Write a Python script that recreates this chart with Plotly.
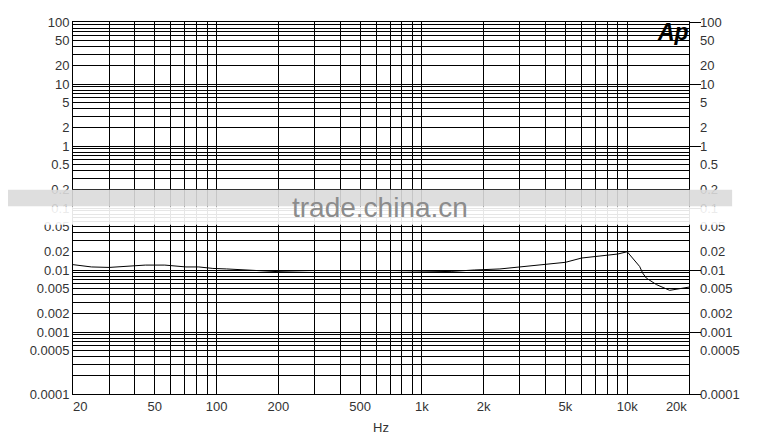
import plotly.graph_objects as go

# ---- data ----
freq_hz = [20, 24.6, 30, 36, 45, 56, 71, 82, 96, 112, 140, 160, 200, 300, 500, 700,
           1000, 1400, 1800, 2400, 3000, 4000, 5000, 6000, 7000, 9000, 10000,
           11500, 11900, 12400, 13900, 16100, 18700, 20000]
thd_pct = [0.0122, 0.0112, 0.0110, 0.0114, 0.0120, 0.0120, 0.0112, 0.0112, 0.0106, 0.0104,
           0.0099, 0.0098, 0.0094, 0.0091, 0.0090, 0.0091,
           0.0093, 0.0095, 0.0100, 0.0104, 0.0112, 0.0125, 0.0133, 0.0156, 0.0166, 0.0181, 0.0197,
           0.0114, 0.0089, 0.0074, 0.0058, 0.0047, 0.0051, 0.0053]

x_tick_vals = [20, 50, 100, 200, 500, 1000, 2000, 5000, 10000, 20000]
x_tick_text = ["\u00a0\u00a0\u00a0\u00a020", "50", "100", "200", "500", "1k", "2k", "5k", "10k",
               "20k\u00a0\u00a0\u00a0\u00a0\u00a0\u00a0\u00a0"]
y_tick_vals = [100, 50, 20, 10, 5, 2, 1, 0.5, 0.2, 0.1, 0.05, 0.02, 0.01, 0.005, 0.002,
               0.001, 0.0005, 0.0001]
y_tick_text = ["100", "50", "20", "10", "5", "2", "1", "0.5", "0.2", "0.1", "0.05", "0.02",
               "0.01", "0.005", "0.002", "0.001", "0.0005", "0.0001"]
y_decades = [100, 10, 1, 0.1, 0.01, 0.001, 0.0001]

# grid positions
x_grid = [m * 10 ** e for e in (1, 2, 3) for m in range(1, 10) if m * 10 ** e >= 20] + [10000]
y_grid = [m * 10.0 ** e for e in range(-4, 2) for m in range(1, 10)] + [100]

FONT = "Liberation Sans, Arial, sans-serif"
TXT = "#333333"

fig = go.Figure()
fig.add_trace(go.Scatter(x=freq_hz, y=thd_pct, mode="lines",
                         line=dict(color="black", width=1), hoverinfo="skip"))
for ya in ("y2", "y3"):
    fig.add_trace(go.Scatter(x=[freq_hz[0]], y=[thd_pct[0]], yaxis=ya, mode="markers",
                             marker=dict(opacity=0), hoverinfo="skip"))

yrange = [-4, 2]
# the page body has an 8px margin, so the figure is sized to fit the 761x435 window
fig.update_layout(
    width=753, height=427,
    margin=dict(l=65, r=72, t=14, b=41, autoexpand=False),
    paper_bgcolor="white", plot_bgcolor="white",
    showlegend=False,
    font=dict(family=FONT, size=13, color=TXT),
    xaxis=dict(type="log", range=[1.30103, 4.30103], tickmode="array",
               tickvals=x_tick_vals, ticktext=x_tick_text, showgrid=False,
               minor=dict(tickmode="array", tickvals=x_grid, showgrid=True,
                          gridcolor="black", gridwidth=1, ticks=""),
               showline=True, linecolor="black", linewidth=1, mirror=True,
               ticks="", zeroline=False, automargin=False,
               title=dict(text="Hz", standoff=14, font=dict(size=13, color=TXT))),
    yaxis=dict(type="log", range=yrange, tickmode="array",
               tickvals=y_tick_vals, ticktext=y_tick_text, showgrid=False,
               minor=dict(tickmode="array", tickvals=y_grid, showgrid=True,
                          gridcolor="black", gridwidth=1, ticks=""),
               showline=True, linecolor="black", linewidth=1, mirror=True,
               ticks="", zeroline=False, automargin=False),
    yaxis2=dict(type="log", range=yrange, overlaying="y", side="right",
                tickmode="array", tickvals=y_tick_vals, ticktext=y_tick_text,
                showgrid=False, ticks="", ticklabelstandoff=10, zeroline=False,
                automargin=False),
    yaxis3=dict(type="log", range=yrange, overlaying="y", side="right",
                tickmode="array", tickvals=y_decades, showticklabels=False,
                showgrid=False, ticks="outside", ticklen=11, tickcolor="black",
                tickwidth=1, zeroline=False, automargin=False),
)

# watermark band
fig.add_shape(type="rect", xref="paper", yref="paper", x0=-0.12, x1=1.07, y0=0.504, y1=0.549,
              fillcolor="#dadada", opacity=0.9, line_width=0, layer="above")
fig.add_shape(type="rect", xref="paper", yref="paper", x0=-0.12, x1=1.07, y0=0.455, y1=0.504,
              fillcolor="white", opacity=0.9, line_width=0, layer="above")
fig.add_annotation(text="trade.china.cn", xref="paper", yref="paper", x=0.499, y=0.501,
                   xanchor="center", yanchor="middle",
                   showarrow=False, font=dict(family=FONT, size=28, color="#8c8c8c"))

# Ap logo
fig.add_annotation(text="<b><i>Ap</i></b>", xref="paper", yref="paper", x=0.974, y=0.972,
                   xanchor="center", yanchor="middle",
                   showarrow=False, font=dict(family=FONT, size=23, color="black"))

fig.write_html("out.html")
